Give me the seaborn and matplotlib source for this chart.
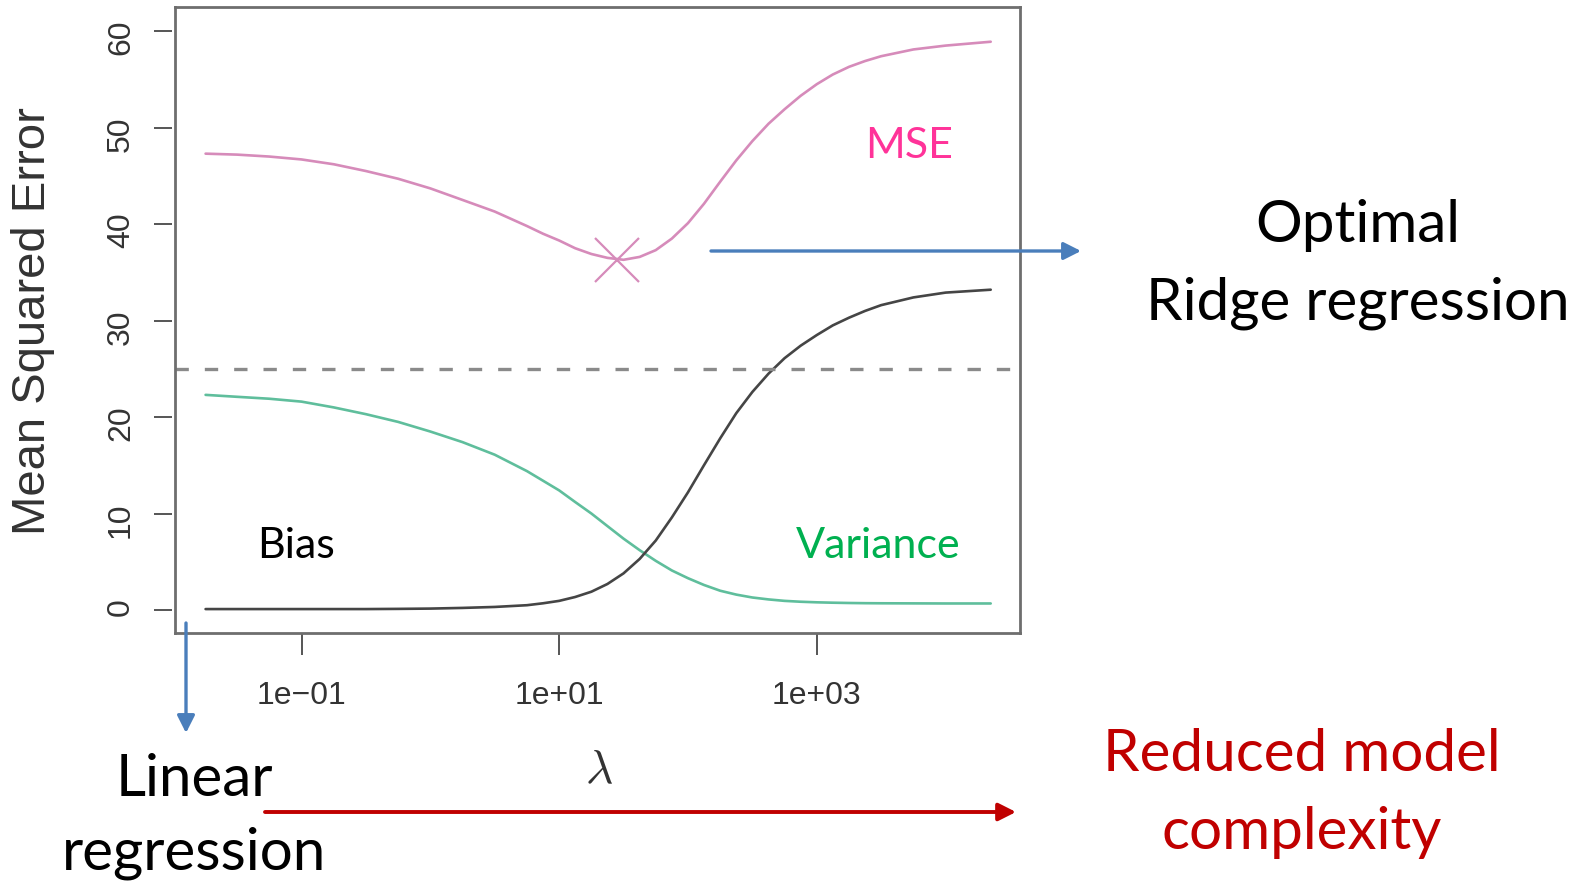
import matplotlib
matplotlib.use("Agg")
import matplotlib.pyplot as plt
from matplotlib.patches import FancyArrowPatch
from matplotlib.ticker import NullLocator
import numpy as np
import pandas as pd
import seaborn as sns

# Ridge regression: error decomposition along the penalty path
lambdas = [0.018, 0.0316, 0.0562, 0.1, 0.178, 0.316, 0.562, 1.0, 1.78, 3.16, 5.62,
           7.5, 10.0, 13.3, 17.8, 23.7, 31.6, 42.2, 56.2, 75.0, 100.0,
           133.0, 178.0, 237.0, 316.0, 422.0, 562.0, 750.0, 1000.0,
           1330.0, 1780.0, 2370.0, 3160.0, 5620.0, 10000.0, 22400.0]
mse = [47.3, 47.2, 47.0, 46.7, 46.2, 45.5, 44.7, 43.7, 42.5, 41.3, 39.8,
       39.0, 38.3, 37.5, 36.9, 36.5, 36.3, 36.6, 37.3, 38.5, 40.1,
       42.1, 44.4, 46.6, 48.6, 50.4, 51.9, 53.3, 54.5,
       55.5, 56.3, 56.9, 57.4, 58.1, 58.5, 58.9]
bias = [0.1, 0.1, 0.1, 0.1, 0.1, 0.1, 0.12, 0.15, 0.22, 0.32, 0.5,
        0.7, 0.95, 1.35, 1.9, 2.7, 3.8, 5.3, 7.2, 9.6, 12.2,
        15.0, 17.8, 20.4, 22.6, 24.5, 26.1, 27.4, 28.5,
        29.5, 30.3, 31.0, 31.6, 32.4, 32.9, 33.2]
variance = [22.3, 22.1, 21.9, 21.6, 21.0, 20.3, 19.5, 18.5, 17.4, 16.1, 14.4,
            13.4, 12.4, 11.2, 10.0, 8.7, 7.4, 6.2, 5.1, 4.1, 3.3,
            2.6, 2.0, 1.6, 1.3, 1.1, 0.95, 0.86, 0.8,
            0.76, 0.73, 0.71, 0.7, 0.69, 0.68, 0.68]
irreducible_error = 25.0
optimal_lambda = [28.3]
optimal_mse = [36.3]

xtick_values = [0.1, 10, 1000]
xtick_labels = ["1e\u221201", "1e+01", "1e+03"]
ytick_values = [0, 10, 20, 30, 40, 50, 60]
ytick_labels = ["0", "10", "20", "30", "40", "50", "60"]

MSE_C = "#D68BBA"
BIAS_C = "#454545"
VAR_C = "#5FBE9C"
DASH_C = "#8A8A8A"
BOX_C = "#6E6E6E"
AXTEXT_C = "#333333"
BLUE = "#4A7EBB"
RED = "#C00000"

sns.set_theme(style="white")
plt.rcParams["font.family"] = ["Liberation Sans", "DejaVu Sans"]
plt.rcParams["mathtext.fontset"] = "cm"

W, H = 1581, 881
fig = plt.figure(figsize=(W / 100, H / 100), dpi=100)
fig.patch.set_facecolor("white")


def fpos(x, y):
    """Pixel position (from top-left) to figure fraction."""
    return (x / W, 1 - y / H)


ax = fig.add_axes([175 / W, 1 - 633 / H, (1020 - 175) / W, (633 - 7) / H])
ax.set_xscale("log")

df = pd.DataFrame({"lambda": lambdas, "MSE": mse, "Bias": bias, "Variance": variance})
sns.lineplot(data=df, x="lambda", y="MSE", color=MSE_C, lw=1.9, ax=ax)
sns.lineplot(data=df, x="lambda", y="Variance", color=VAR_C, lw=1.9, ax=ax)
sns.lineplot(data=df, x="lambda", y="Bias", color=BIAS_C, lw=1.9, ax=ax)
ax.axhline(irreducible_error, color=DASH_C, lw=2.4, ls=(0, (4.0, 4.8)))
ax.plot(optimal_lambda, optimal_mse, ls="none", marker="x", ms=32,
        mew=1.6, color=MSE_C)

ax.set_xlim(0.01042, 37800)
ax.set_ylim(-2.38, 62.5)
ax.set_xlabel("")
ax.set_ylabel("")

ax.set_xticks(xtick_values, labels=xtick_labels)
ax.xaxis.set_minor_locator(NullLocator())
ax.set_yticks(ytick_values, labels=ytick_labels)

ax.tick_params(axis="x", direction="out", length=15.8, width=1.4, color="#555555",
               pad=18.5, labelsize=23, labelcolor=AXTEXT_C, bottom=True)
ax.tick_params(axis="y", direction="out", length=13, width=1.4, color="#555555",
               pad=13, labelsize=23, labelcolor=AXTEXT_C, left=True,
               labelrotation=90)
for lab in ax.get_yticklabels():
    lab.set_va("center")

# y ticks sit just outside the frame; frame edge drawn separately
ax.spines["left"].set_position(("outward", 2))
ax.spines["left"].set_visible(False)
for side in ["top", "right", "bottom"]:
    ax.spines[side].set_color(BOX_C)
    ax.spines[side].set_linewidth(2.0)
ax.plot([0, 0], [0, 1], transform=ax.transAxes, color=BOX_C, lw=2.0,
        clip_on=False, solid_capstyle="projecting")

fig.text(*fpos(33, 321), "Mean Squared Error", rotation=90, ha="center",
         va="center", fontsize=34, color=AXTEXT_C)
fig.text(*fpos(599, 771), r"$\lambda$", ha="center", va="center",
         fontsize=34, color=AXTEXT_C)

ANN = ["Lato", "DejaVu Sans"]
fig.text(*fpos(909, 158), "MSE", ha="center", va="baseline", fontsize=31,
         color="#FF3399", family=ANN)
fig.text(*fpos(296, 558), "Bias", ha="center", va="baseline", fontsize=31,
         color="black", family=ANN)
fig.text(*fpos(878, 558), "Variance", ha="center", va="baseline", fontsize=31,
         color="#00B050", family=ANN)

fig.text(*fpos(1358, 242), "Optimal", ha="center", va="baseline", fontsize=42,
         color="black", family=ANN)
fig.text(*fpos(1358, 319), "Ridge regression", ha="center", va="baseline",
         fontsize=42, color="black", family=ANN)
fig.text(*fpos(194, 796), "Linear", ha="center", va="baseline", fontsize=42,
         color="black", family=ANN)
fig.text(*fpos(194, 869), "regression", ha="center", va="baseline", fontsize=42,
         color="black", family=ANN)
fig.text(*fpos(1302, 771), "Reduced model", ha="center", va="baseline",
         fontsize=42, color=RED, family=ANN)
fig.text(*fpos(1302, 849), "complexity", ha="center", va="baseline",
         fontsize=42, color=RED, family=ANN)


def arrow(p0, p1, color, lw):
    fig.add_artist(FancyArrowPatch(
        fpos(*p0), fpos(*p1), transform=fig.transFigure,
        arrowstyle="-|>,head_length=10.5,head_width=5.3", mutation_scale=1,
        color=color, lw=lw, shrinkA=0, shrinkB=0))


arrow((711, 251), (1081, 251), BLUE, 2.4)
arrow((186, 623), (186, 733), BLUE, 2.4)
arrow((265, 812), (1016, 812), RED, 2.8)

fig.savefig("out.png", dpi=100, facecolor="white")
